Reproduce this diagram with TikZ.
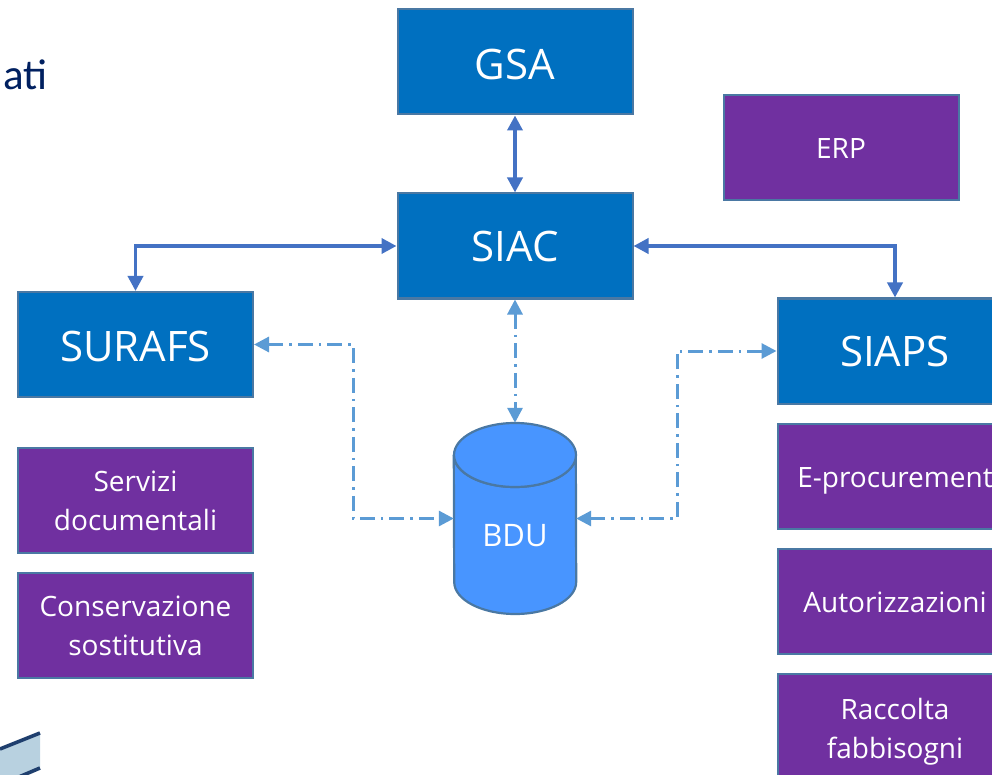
\documentclass[tikz,border=0pt]{standalone}
\usepackage{fontspec}
\setmainfont{Open Sans}
\newfontfamily\calib{Carlito}
\usetikzlibrary{arrows.meta,calc}
\definecolor{boxblue}{HTML}{0070C0}
\definecolor{boxpurple}{HTML}{7030A0}
\definecolor{edgeblue}{HTML}{4A78A3}
\definecolor{cylblue}{HTML}{4895FF}
\definecolor{solidline}{HTML}{4472C4}
\definecolor{dashline}{HTML}{5B9BD5}
\definecolor{titlenavy}{HTML}{002060}
\definecolor{logofill}{HTML}{B8D1E0}
\definecolor{logobar}{HTML}{1F3F6E}
\newcommand{\dn}[2]{\raisebox{-#1pt}[0pt][0pt]{#2}}
\tikzset{
  bluebox/.style={draw=edgeblue,line width=2pt,fill=boxblue,text=white,minimum width=235pt,minimum height=105pt,inner sep=0pt,font=\fontsize{42}{50}\selectfont,anchor=center},
  purplebox/.style={draw=edgeblue,line width=2pt,fill=boxpurple,text=white,minimum width=235pt,minimum height=105pt,inner sep=0pt,align=center,font=\fontsize{28}{39}\selectfont,anchor=center},
  solidlink/.style={draw=solidline,line width=3.6pt,{Triangle[length=15pt,width=15pt]}-{Triangle[length=15pt,width=15pt]}},
  dashlink/.style={draw=dashline,line width=3pt,dash pattern=on 15pt off 6pt on 2.5pt off 6pt,{Triangle[length=15pt,width=15pt]}-{Triangle[length=15pt,width=15pt]}},
}
\begin{document}
\begin{tikzpicture}[x=1pt,y=-1pt]
\useasboundingbox[clip] (0,0) rectangle (992,775);
\fill[white] (0,0) rectangle (992,775);
% clipped fragments at the edges
\node[anchor=base east,inner sep=0pt,text=titlenavy,font=\calib\fontsize{43}{50}\selectfont] (title) at (47.5,90) {at{}i};
\fill[logofill] (0,749) -- (40,733) -- (40,768) -- (0,785) -- cycle;
\draw[logobar,line width=3.6pt] (0,749) -- (40,733);
\draw[logobar,line width=3.6pt] (0,785) -- (40,768);
% boxes
\node[bluebox] (gsa) at (515,62) {\dn{17.5}{GSA}};
\node[bluebox] (siac) at (515,246) {\dn{16}{SIAC}};
\node[bluebox] (surafs) at (135.5,344.5) {\dn{17}{SURAFS}};
\node[bluebox] (siaps) at (895,351) {\dn{15.5}{SIAPS}};
\node[purplebox] (erp) at (841,148) {\dn{11}{ERP}};
\node[purplebox] (serv) at (135.5,500) {\dn{11}{Servizi}\\\dn{11}{documentali}};
\node[purplebox] (cons) at (135.5,625) {\dn{11}{Conservazione}\\\dn{11}{sostitutiva}};
\node[purplebox] (eproc) at (895,476) {\dn{11.5}{E-procurement}};
\node[purplebox] (aut) at (895,601) {\dn{11}{Autorizzazioni}};
\node[purplebox] (racc) at (895,726) {\dn{13}{Raccolta}\\\dn{13}{fabbisogni}};
% cylinder
\node[minimum width=122pt,minimum height=191pt,inner sep=0pt] (bdu) at (515,518.5) {};
\draw[edgeblue,line width=2.2pt,fill=cylblue]
  (bdu.west |- 0,455) arc[start angle=180,end angle=360,x radius=61,y radius=-32] -- (bdu.east |- 0,582)
  arc[start angle=0,end angle=-180,x radius=61,y radius=-32] -- cycle;
\draw[edgeblue,line width=2.2pt,fill=cylblue]
  (515,455) ellipse[x radius=61,y radius=32];
\node[text=white,font=\fontsize{31}{36}\selectfont,inner sep=0pt] (bdutext) at (515,536) {BDU};
% connectors
\draw[solidlink] (gsa.south) -- (siac.north);
\draw[solidlink] (siac.west) -| (surafs.north);
\draw[solidlink] (siac.east) -| (siaps.north);
\draw[dashlink] (siac.south) -- (bdu.north);
\draw[dashlink] (surafs.east) -- (353,344.5) |- (bdu.west);
\draw[dashlink] (bdu.east) -- (677,518.5) |- (siaps.west);
\end{tikzpicture}
\end{document}
